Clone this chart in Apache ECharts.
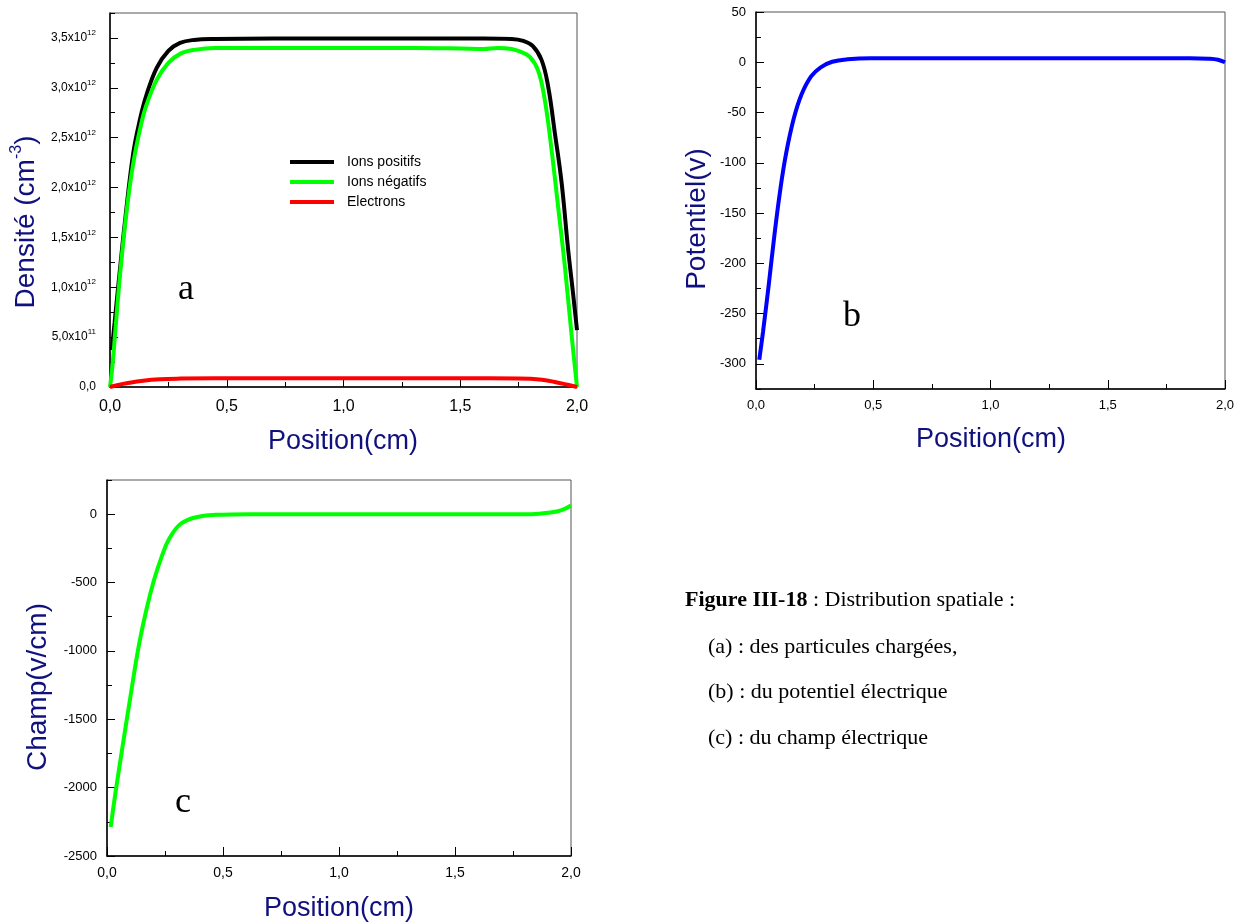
<!DOCTYPE html>
<html>
<head>
<meta charset="utf-8">
<script src="https://cdn.jsdelivr.net/npm/echarts@6/dist/echarts.min.js"></script>
<style>
html, body { margin: 0; padding: 0; background: #fff; }
#chart { width: 1241px; height: 924px; }
</style>
</head>
<body>
<div id="chart"></div>
<script>
// (a) densités
var xPos = [0.008, 0.02, 0.037, 0.066, 0.1, 0.13, 0.155, 0.2, 0.25, 0.3, 0.36, 0.45, 0.7, 1.0, 1.3, 1.6, 1.72, 1.77, 1.81, 1.848, 1.876, 1.905, 1.934, 1.962, 1.983, 2.0];
var ionsPositifs = [0.37e12, 0.65e12, 1.05e12, 1.7e12, 2.35e12, 2.7e12, 2.92e12, 3.2e12, 3.37e12, 3.45e12, 3.48e12, 3.49e12, 3.495e12, 3.495e12, 3.495e12, 3.495e12, 3.49e12, 3.47e12, 3.42e12, 3.28e12, 3.02e12, 2.55e12, 2.05e12, 1.38e12, 0.94e12, 0.57e12];
var xNeg = [0, 0.01, 0.023, 0.044, 0.073, 0.1, 0.13, 0.155, 0.2, 0.25, 0.3, 0.36, 0.45, 0.7, 1.0, 1.3, 1.5, 1.6, 1.66, 1.72, 1.76, 1.798, 1.834, 1.862, 1.891, 1.919, 1.948, 1.976, 2.0];
var ionsNegatifs = [0, 0.2e12, 0.57e12, 1.15e12, 1.8e12, 2.25e12, 2.6e12, 2.82e12, 3.08e12, 3.25e12, 3.34e12, 3.38e12, 3.4e12, 3.4e12, 3.4e12, 3.4e12, 3.395e12, 3.39e12, 3.4e12, 3.39e12, 3.36e12, 3.31e12, 3.17e12, 2.88e12, 2.38e12, 1.81e12, 1.21e12, 0.54e12, 0];
var xEl = [0, 0.03, 0.071, 0.142, 0.214, 0.3, 0.45, 1.0, 1.5, 1.75, 1.8, 1.85, 1.9, 1.96, 2.0];
var electrons = [0, 0.018e12, 0.037e12, 0.063e12, 0.078e12, 0.084e12, 0.087e12, 0.087e12, 0.087e12, 0.086e12, 0.083e12, 0.073e12, 0.053e12, 0.022e12, 0];

// (b) potentiel
var xPot = [0.014, 0.03, 0.055, 0.079, 0.104, 0.129, 0.161, 0.194, 0.235, 0.276, 0.325, 0.391, 0.49, 0.8, 1.2, 1.6, 1.85, 1.93, 1.97, 2.0];
var potentiel = [-296, -268, -220, -171, -126, -90, -56, -32, -14, -5, 0.5, 3, 4, 4, 4, 4, 4, 3.5, 2.5, 0];

// (c) champ
var xChamp = [0.016, 0.036, 0.069, 0.103, 0.136, 0.169, 0.202, 0.235, 0.268, 0.318, 0.385, 0.467, 0.62, 1.0, 1.4, 1.83, 1.91, 1.96, 2.0];
var champ = [-2288, -2044, -1678, -1313, -972, -704, -485, -314, -180, -70, -22, -5, 0, 0, 0, 0, 12, 30, 64];

// graduations
var xTicks = [0, 0.5, 1, 1.5, 2];
var xTickLabels = ['0,0', '0,5', '1,0', '1,5', '2,0'];
var densTicks = [0, 0.5e12, 1e12, 1.5e12, 2e12, 2.5e12, 3e12, 3.5e12];
var densMant = ['0,0', '5,0', '1,0', '1,5', '2,0', '2,5', '3,0', '3,5'];
var densExp = ['', '11', '12', '12', '12', '12', '12', '12'];
var potTicks = [-300, -250, -200, -150, -100, -50, 0, 50];
var champTicks = [-2500, -2000, -1500, -1000, -500, 0];

var SANS = 'Liberation Sans';
var SERIF = 'Liberation Serif';
var NAVY = '#10107e';

function zip(xs, ys) {
  return xs.map(function (x, i) { return [x, ys[i]]; });
}

function xAxisFor(gridIndex, fontSize, margin) {
  return {
    type: 'value', gridIndex: gridIndex, min: 0, max: 2, interval: 0.5,
    axisLine: { show: true, onZero: false, lineStyle: { color: '#000', width: 1.5 } },
    axisTick: { show: true, inside: true, length: 9, lineStyle: { color: '#000', width: 1 } },
    minorTick: { show: true, splitNumber: 2, length: 5, lineStyle: { color: '#000', width: 1 } },
    splitLine: { show: false },
    axisLabel: {
      fontFamily: SANS, fontSize: fontSize, color: '#000', margin: margin,
      formatter: function (v) {
        var i = xTicks.indexOf(v);
        return i < 0 ? '' : xTickLabels[i];
      }
    }
  };
}

// axe principal (graduations et libellés)
function yMajor(gridIndex, min, max, ticks, labelOpt) {
  return {
    type: 'value', gridIndex: gridIndex, min: min, max: max, position: 'left',
    axisLine: { show: true, onZero: false, lineStyle: { color: '#000', width: 1.5 } },
    axisTick: { show: true, inside: true, length: 8, customValues: ticks, lineStyle: { color: '#000', width: 1 } },
    axisLabel: Object.assign({ customValues: ticks, color: '#000', fontFamily: SANS }, labelOpt),
    splitLine: { show: false }
  };
}

// axe secondaire pour les petites graduations
function yMinor(gridIndex, min, max, step) {
  return {
    type: 'value', gridIndex: gridIndex, min: min, max: max, interval: step, position: 'left',
    axisLine: { show: false },
    axisTick: { show: true, inside: true, length: 5, lineStyle: { color: '#000', width: 1 } },
    axisLabel: { show: false },
    splitLine: { show: false }
  };
}

function txt(x, y, text, size, opts) {
  return {
    type: 'text', x: x, y: y, rotation: (opts && opts.rotation) || 0,
    style: Object.assign({
      text: text, fontSize: size, fontFamily: SANS, fill: NAVY,
      align: 'center', verticalAlign: 'middle'
    }, opts && opts.style)
  };
}

function plain(v) { return String(v); }

var chart = echarts.init(document.getElementById('chart'));

var option = {
  animation: false,
  backgroundColor: '#fff',
  grid: [
    { left: 110, top: 13, width: 467, height: 374, show: true, borderColor: '#555', borderWidth: 1 },
    { left: 756, top: 12, width: 469, height: 377, show: true, borderColor: '#555', borderWidth: 1 },
    { left: 107, top: 480, width: 464, height: 376, show: true, borderColor: '#555', borderWidth: 1 }
  ],
  xAxis: [
    xAxisFor(0, 16, 12),
    xAxisFor(1, 13, 10),
    xAxisFor(2, 14, 10)
  ],
  yAxis: [
    yMajor(0, 0, 3.75e12, densTicks, {
      margin: 14,
      formatter: function (v) {
        var i = densTicks.indexOf(v);
        if (i < 0) return '';
        if (!densExp[i]) return '{m|' + densMant[i] + '}';
        return '{m|' + densMant[i] + 'x10}{s|' + densExp[i] + '}';
      },
      rich: {
        m: { fontFamily: SANS, fontSize: 12, lineHeight: 18, color: '#000' },
        s: { fontFamily: SANS, fontSize: 8, lineHeight: 9, verticalAlign: 'top', color: '#000' }
      }
    }),
    yMinor(0, 0, 3.75e12, 0.25e12),
    yMajor(1, -325, 50, potTicks, { margin: 10, fontSize: 13, formatter: plain }),
    yMinor(1, -325, 50, 25),
    yMajor(2, -2500, 250, champTicks, { margin: 10, fontSize: 13, formatter: plain }),
    yMinor(2, -2500, 250, 250)
  ],
  legend: {
    orient: 'vertical', left: 285, top: 150,
    itemWidth: 44, itemHeight: 4, itemGap: 6, icon: 'rect',
    selectedMode: false,
    textStyle: { fontFamily: SANS, fontSize: 14, color: '#000', padding: [0, 0, 0, 8] },
    data: ['Ions positifs', 'Ions négatifs', 'Electrons']
  },
  series: [
    {
      name: 'Ions positifs', type: 'line', xAxisIndex: 0, yAxisIndex: 0,
      data: zip(xPos, ionsPositifs), showSymbol: false, smooth: 0.4,
      color: '#000', lineStyle: { color: '#000', width: 4 }
    },
    {
      name: 'Ions négatifs', type: 'line', xAxisIndex: 0, yAxisIndex: 0,
      data: zip(xNeg, ionsNegatifs), showSymbol: false, smooth: 0.4,
      color: '#00ff00', lineStyle: { color: '#00ff00', width: 4 }
    },
    {
      name: 'Electrons', type: 'line', xAxisIndex: 0, yAxisIndex: 0,
      data: zip(xEl, electrons), showSymbol: false, smooth: 0.4,
      color: '#ff0000', lineStyle: { color: '#ff0000', width: 4 }
    },
    {
      name: 'Potentiel', type: 'line', xAxisIndex: 1, yAxisIndex: 2,
      data: zip(xPot, potentiel), showSymbol: false, smooth: 0.4,
      color: '#0000ff', lineStyle: { color: '#0000ff', width: 4 }
    },
    {
      name: 'Champ', type: 'line', xAxisIndex: 2, yAxisIndex: 4,
      data: zip(xChamp, champ), showSymbol: false, smooth: 0.4,
      color: '#00ff00', lineStyle: { color: '#00ff00', width: 4 }
    }
  ],
  graphic: [
    // titres des axes
    txt(343, 442, 'Position(cm)', 27),
    txt(991, 440, 'Position(cm)', 27),
    txt(339, 909, 'Position(cm)', 27),
    txt(26, 222, '{t|Densité (cm}{s|-3}{t|)}', 28, {
      rotation: Math.PI / 2,
      style: {
        rich: {
          t: { fontFamily: SANS, fontSize: 28, lineHeight: 34, fill: NAVY },
          s: { fontFamily: SANS, fontSize: 16, lineHeight: 16, verticalAlign: 'top', fill: NAVY }
        }
      }
    }),
    txt(697, 219, 'Potentiel(v)', 28, { rotation: Math.PI / 2 }),
    txt(38, 687, 'Champ(v/cm)', 28, { rotation: Math.PI / 2 }),
    // lettres des sous-figures
    txt(186, 290, 'a', 36, { style: { fontFamily: SERIF, fill: '#000' } }),
    txt(852, 317, 'b', 36, { style: { fontFamily: SERIF, fill: '#000' } }),
    txt(183, 803, 'c', 36, { style: { fontFamily: SERIF, fill: '#000' } }),
    // légende de la figure
    txt(685, 600, '{b|Figure III-18}{r| : Distribution spatiale :}', 22, {
      style: {
        align: 'left', fill: '#000',
        rich: {
          b: { fontFamily: SERIF, fontSize: 22, fontWeight: 'bold', fill: '#000' },
          r: { fontFamily: SERIF, fontSize: 22, fill: '#000' }
        }
      }
    }),
    txt(708, 647, '(a) : des particules chargées,', 22, { style: { align: 'left', fontFamily: SERIF, fill: '#000' } }),
    txt(708, 692, '(b) : du potentiel électrique', 22, { style: { align: 'left', fontFamily: SERIF, fill: '#000' } }),
    txt(708, 738, '(c) : du champ électrique', 22, { style: { align: 'left', fontFamily: SERIF, fill: '#000' } })
  ]
};

chart.setOption(option);
</script>
</body>
</html>
